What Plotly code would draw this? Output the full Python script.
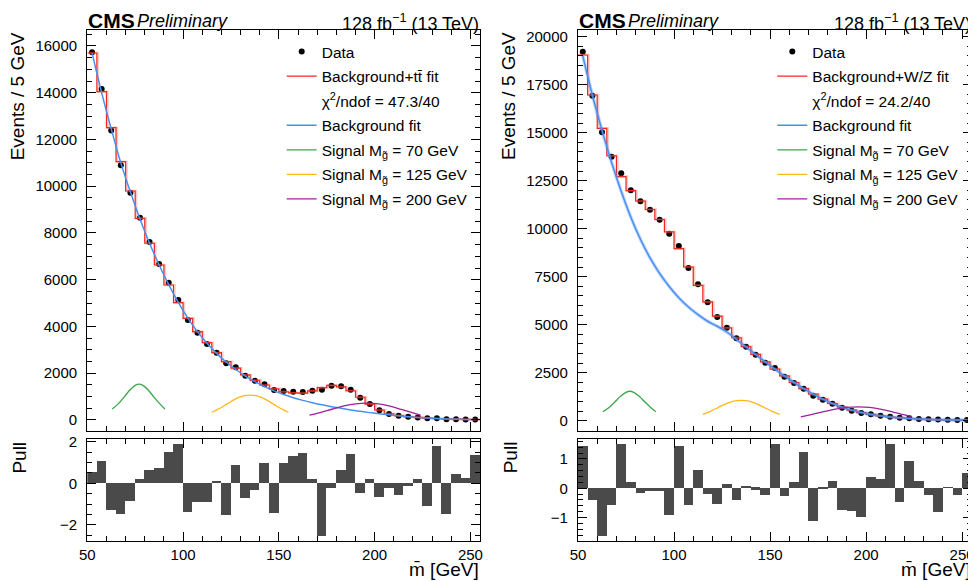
import plotly.graph_objects as go

# ---------------- data ----------------
bin_edges = [50 + 5 * i for i in range(42)]
bin_centers = [e + 2.5 for e in bin_edges[:-1]]

data_left = [15730, 14160, 12380, 10900, 9725, 8655, 7615, 6674, 5875, 5134, 4278, 3736, 3251, 2880,
             2425, 2254, 1896, 1682, 1527, 1283, 1241, 1205, 1200, 1255, 1298, 1469, 1440, 1298, 956,
             684, 413, 258, 182, 140, 110, 70, 74, 35, 35, 25, 24]
fit_left = [15700, 14045, 12506, 11051, 9797, 8628, 7560, 6631, 5775, 5019, 4350, 3779, 3308, 2880,
            2495, 2215, 1928, 1695, 1497, 1335, 1208, 1160, 1150, 1248, 1383, 1479, 1415, 1250, 972,
            679, 427, 262, 190, 142, 108, 80, 60, 45, 33, 24, 18]
bkg_left = [15700, 14000, 12450, 11000, 9750, 8600, 7560, 6630, 5790, 5030, 4360, 3780, 3280, 2850,
            2480, 2160, 1880, 1640, 1430, 1245, 1090, 955, 840, 740, 650, 570, 500, 430, 370, 315,
            265, 220, 178, 140, 107, 80, 60, 45, 33, 24, 18]
pull_left = [0.51, 1.07, -1.28, -1.47, -0.88, 0.21, 0.64, 0.74, 1.51, 1.89, -1.41, -0.93, -0.93, 0.11,
             -1.55, 0.88, -0.74, -0.32, 0.95, -1.46, 0.95, 1.31, 1.46, 0.21, -2.56, -0.26, 0.64, 1.41,
             -0.50, 0.21, -0.69, -0.26, -0.59, -0.16, 0.21, -1.12, 1.79, -1.51, 0.45, 0.26, 1.36]

data_right = [19219, 16927, 15020, 13750, 12885, 12000, 11427, 10990, 10469, 9740, 9099, 7953, 7104,
              6167, 5401, 4844, 4292, 3854, 3438, 3021, 2745, 2292, 1964, 1667, 1302, 1094, 885, 677,
              521, 401, 333, 260, 208, 156, 125, 89, 75, 60, 50, 40, 35]
fit_right = [19046, 16963, 15229, 13800, 12715, 11979, 11443, 11000, 10480, 9832, 8960, 8006, 7051,
             6184, 5442, 4834, 4320, 3860, 3450, 3060, 2690, 2330, 1990, 1670, 1380, 1120, 895, 705,
             550, 425, 328, 252, 193, 148, 114, 88, 68, 53, 42, 33, 26]
bkg_right = [19000, 16950, 15120, 13450, 11950, 10600, 9450, 8480, 7670, 6990, 6400, 5920, 5520, 5180,
             4920, 4620, 4240, 3840, 3450, 3060, 2690, 2330, 1990, 1670, 1380, 1120, 895, 705, 550,
             425, 328, 252, 193, 148, 114, 88, 68, 53, 42, 33, 26]
pull_right = [1.42, -0.40, -1.65, -0.59, 1.51, 0.19, -0.18, -0.09, -0.11, -0.93, 1.45, -0.59, 0.63,
              -0.22, -0.56, 0.15, -0.40, 0.08, -0.06, -0.25, 1.51, -0.28, 0.22, 1.24, -1.13, -0.03,
              0.25, -0.76, -0.80, -1.00, 0.39, 0.32, 1.51, -0.48, 0.93, 0.25, -0.25, -0.82, 0.01,
              -0.25, 0.52]

sig70_x = [63, 66, 69, 72, 75, 77, 79, 82, 85, 88, 90.5]
sig70_y = [470, 680, 960, 1260, 1480, 1535, 1480, 1260, 960, 680, 470]
sig125_x = [115, 119, 123, 127, 131, 135, 139, 143, 147, 151, 155]
sig125_y = [330, 490, 690, 880, 1020, 1060, 1020, 880, 690, 490, 330]
sig200_x = [166, 172, 178, 184, 190, 196, 202, 208, 214, 220, 224]
sig200_y = [205, 330, 470, 600, 690, 720, 690, 590, 450, 300, 210]

panels = [
    dict(data=data_left, fit=fit_left, bkg=bkg_left, pull=pull_left,
         fitname="Background+tt\u0304 fit", chi2="\u03c7<sup>2</sup>/ndof = 47.3/40",
         yrange=[-471, 16684], dtick=2000, pullrange=[-2.774, 2.115], pulldtick=2, pullminor=0.5,
         xd=[87.3, 480], legx=281.7, bkgband=False),
    dict(data=data_right, fit=fit_right, bkg=bkg_right, pull=pull_right,
         fitname="Background+W/Z fit", chi2="\u03c7<sup>2</sup>/ndof = 24.2/40",
         yrange=[-536, 20349], dtick=2500, pullrange=[-1.80, 1.672], pulldtick=1, pullminor=0.2,
         xd=[578, 971.7], legx=772.3, bkgband=True),
]

# page offset (body margin) compensation: screen px -> paper fraction
OFF = 8
W, H = 976 - OFF, 581 - OFF
def px(xs):
    return (xs - OFF) / W
def py(ys):
    return 1 - (ys - OFF) / H

FONT = "Liberation Sans, Arial, Helvetica, sans-serif"
RED = "#ee2a1e"
BLUE = "#4a8ff0"
GREEN = "#3aa84a"
YELLOW = "#ffb81a"
PURPLE = "#a0209f"

top_dom = [py(431), py(30)]
pull_dom = [py(541), py(439.3)]

fig = go.Figure()
layout = dict(width=W, height=H, margin=dict(l=0, r=0, t=0, b=0, pad=0, autoexpand=False),
              paper_bgcolor="white", plot_bgcolor="white",
              font=dict(family=FONT, size=15, color="black"),
              bargap=0, showlegend=True, annotations=[])

def axis_common():
    return dict(showline=True, linecolor="black", linewidth=1.3, mirror="allticks",
                ticks="inside", ticklen=9, tickwidth=1, tickcolor="black",
                showgrid=False, zeroline=False, automargin=False, tickformat="d",
                tickfont=dict(family=FONT, size=15, color="black"))

for i, p in enumerate(panels):
    n = 2 * i
    xt, yt = f"x{n+1 if n else ''}", f"y{n+1 if n else ''}"
    xp, yp = f"x{n+2}", f"y{n+2}"
    leg = "legend" if i == 0 else "legend2"
    xdom = [px(p["xd"][0]), px(p["xd"][1])]

    fig.add_trace(go.Scatter(x=bin_centers, y=p["data"], mode="markers", name="Data",
                             marker=dict(color="black", size=6), xaxis=xt, yaxis=yt,
                             legend=leg, legendgroup=f"d{i}", legendrank=1))
    step_y = p["fit"] + [p["fit"][-1]]
    fig.add_trace(go.Scatter(x=[e + 0.5 for e in bin_edges], y=step_y, mode="lines",
                             line=dict(color="rgba(240,90,80,0.3)", width=2.5, shape="hv"),
                             xaxis=xt, yaxis=yt, showlegend=False, hoverinfo="skip"))
    fig.add_trace(go.Scatter(x=bin_edges, y=step_y, mode="lines", name=p["fitname"],
                             line=dict(color=RED, width=1.2, shape="hv"),
                             xaxis=xt, yaxis=yt, legend=leg, legendgroup=f"f{i}", legendrank=2))
    fig.add_trace(go.Scatter(x=[None], y=[None], mode="lines", name=p["chi2"],
                             line=dict(color="rgba(0,0,0,0)", width=0),
                             xaxis=xt, yaxis=yt, legend=leg, legendgroup=f"c{i}", legendrank=3))
    if p["bkgband"]:
        fig.add_trace(go.Scatter(x=bin_centers, y=p["bkg"], mode="lines",
                                 line=dict(color="rgba(74,143,240,0.35)", width=3.5, shape="spline"),
                                 xaxis=xt, yaxis=yt, showlegend=False, hoverinfo="skip"))
    fig.add_trace(go.Scatter(x=bin_centers, y=p["bkg"], mode="lines", name="Background fit",
                             line=dict(color=BLUE, width=1.5, shape="spline"),
                             xaxis=xt, yaxis=yt, legend=leg, legendgroup=f"b{i}", legendrank=4))
    for k, (sx, sy, col, m) in enumerate([(sig70_x, sig70_y, GREEN, "70"),
                                         (sig125_x, sig125_y, YELLOW, "125"),
                                         (sig200_x, sig200_y, PURPLE, "200")]):
        fig.add_trace(go.Scatter(x=sx, y=sy, mode="lines",
                                 name=f"Signal M<sub>g\u0303</sub> = {m} GeV",
                                 line=dict(color=col, width=1.3, shape="spline"),
                                 xaxis=xt, yaxis=yt, legend=leg, legendgroup=f"s{k}{i}",
                                 legendrank=5 + k))
    fig.add_trace(go.Bar(x=bin_centers, y=p["pull"], width=5,
                         marker=dict(color="#4a4a4a", line=dict(width=0)),
                         xaxis=xp, yaxis=yp, showlegend=False))

    xa_top = axis_common()
    xa_top.update(domain=xdom, range=[50, 255], anchor=yt, dtick=50, tick0=50,
                  showticklabels=False,
                  minor=dict(ticks="inside", ticklen=5, dtick=10, tick0=50, tickcolor="black"))
    ya_top = axis_common()
    ya_top.update(domain=top_dom, range=p["yrange"], anchor=xt, dtick=p["dtick"], tick0=0,
                  ticklabelstandoff=6,
                  minor=dict(ticks="inside", ticklen=5, dtick=500, tick0=0, tickcolor="black"))
    xa_pull = axis_common()
    xa_pull.update(domain=xdom, range=[50, 255], anchor=yp, dtick=50, tick0=50, matches=xt,
                   minor=dict(ticks="inside", ticklen=5, dtick=10, tick0=50, tickcolor="black"))
    ya_pull = axis_common()
    ya_pull.update(domain=pull_dom, range=p["pullrange"], anchor=xp, dtick=p["pulldtick"], tick0=0,
                   ticklabelstandoff=6,
                   minor=dict(ticks="inside", ticklen=5, dtick=p["pullminor"], tick0=0, tickcolor="black"))

    layout[f"xaxis{n+1 if n else ''}"] = xa_top
    layout[f"yaxis{n+1 if n else ''}"] = ya_top
    layout[f"xaxis{n+2}"] = xa_pull
    layout[f"yaxis{n+2}"] = ya_pull

    layout[leg] = dict(x=px(p["legx"]), y=py(35), xanchor="left", yanchor="top",
                       bgcolor="rgba(0,0,0,0)", borderwidth=0, tracegroupgap=1.4,
                       font=dict(family=FONT, size=15.5, color="black"), traceorder="grouped")

    x0 = px(p["xd"][0])
    x1 = px(p["xd"][1])
    ann = layout["annotations"]
    ann.append(dict(text="<b>CMS</b>", x=x0, y=1, xref="paper", yref="paper",
                    xanchor="left", yanchor="top", showarrow=False, borderpad=0,
                    font=dict(family=FONT, size=21, color="black")))
    ann.append(dict(text="<i>Preliminary</i>", x=px(p["xd"][0] + 49), y=py(10), xref="paper", yref="paper",
                    xanchor="left", yanchor="top", showarrow=False, borderpad=0,
                    font=dict(family=FONT, size=18, color="black")))
    ann.append(dict(text="128 fb<sup>\u22121</sup> (13 TeV)", x=x1, y=py(10), xref="paper", yref="paper",
                    xanchor="right", yanchor="top", showarrow=False, borderpad=0,
                    font=dict(family=FONT, size=18, color="black")))
    ann.append(dict(text="Events / 5 GeV", x=px(p["xd"][0] - 69), y=top_dom[1], xref="paper", yref="paper",
                    xanchor="center", yanchor="top", textangle=-90, showarrow=False,
                    font=dict(family=FONT, size=19, color="black")))
    ann.append(dict(text="Pull", x=px(p["xd"][0] - 68), y=pull_dom[1], xref="paper", yref="paper",
                    xanchor="center", yanchor="top", textangle=-90, showarrow=False,
                    font=dict(family=FONT, size=19, color="black")))
    ann.append(dict(text="m\u0304 [GeV]", x=x1, y=0, xref="paper", yref="paper",
                    xanchor="right", yanchor="bottom", showarrow=False, borderpad=0,
                    font=dict(family=FONT, size=19, color="black")))

fig.update_layout(**layout)
fig.write_html("out.html")
